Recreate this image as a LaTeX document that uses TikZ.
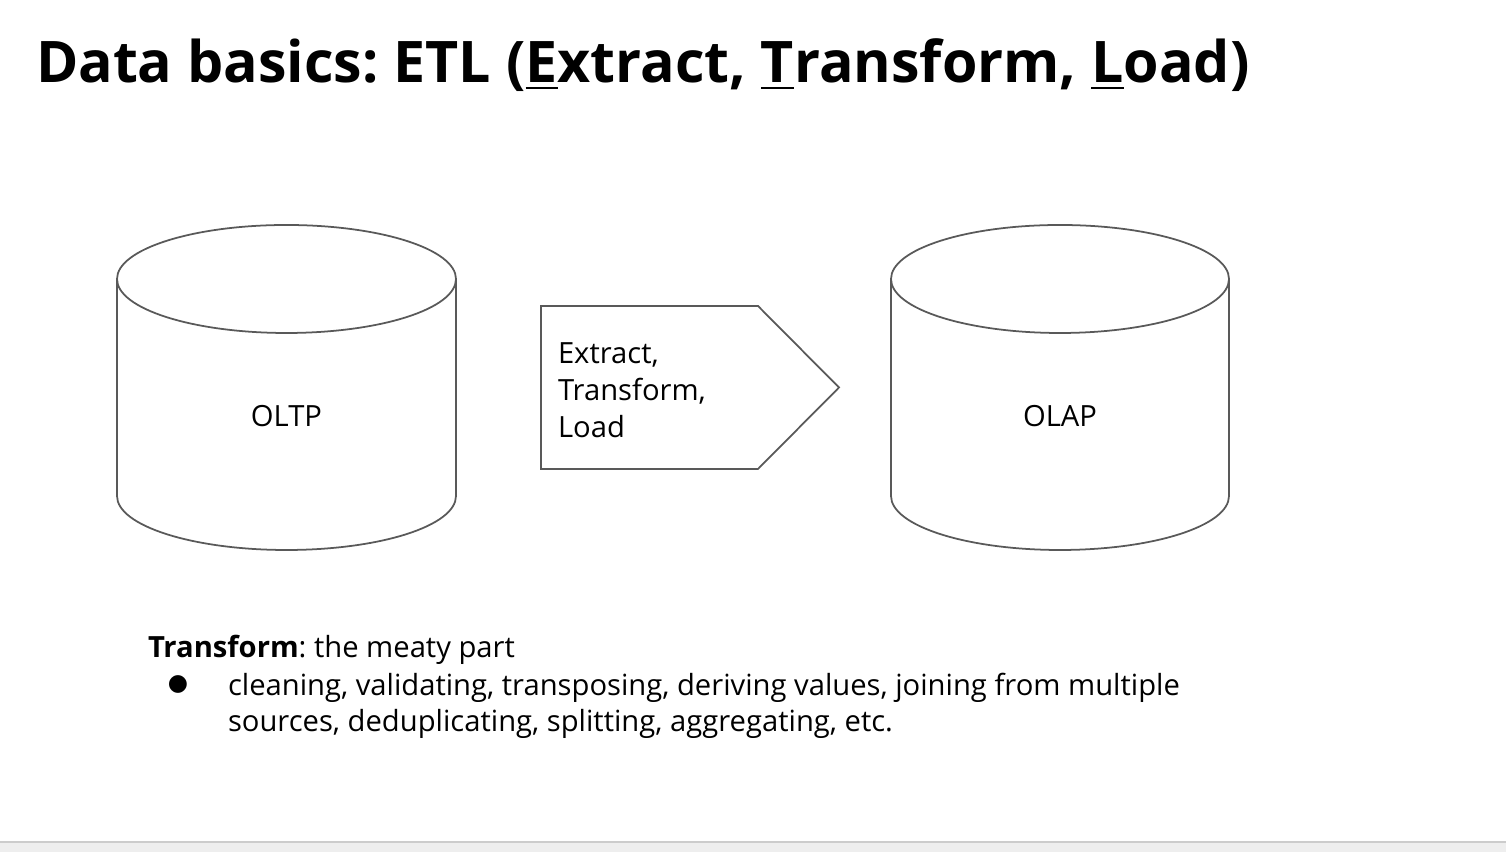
\documentclass[tikz,border=0pt]{standalone}
\usepackage{fontspec}
\setmainfont{Open Sans}
\newfontfamily\symfont{DejaVu Sans}
\usepackage{tikz}
\frenchspacing
\definecolor{edgegray}{HTML}{595959}
\definecolor{bargray}{HTML}{EEEEEE}
\tikzstyle{every node}=[inner sep=0pt, outer sep=0pt]
\tikzstyle{db}=[draw=edgegray, line width=0.5pt, fill=white]
\tikzstyle{body}=[font=\fontsize{8.3}{10.5}\selectfont, align=left]

\begin{document}
\begin{tikzpicture}[x=0.01cm,y=0.01cm]
		\useasboundingbox (0,0) rectangle (1506,852);
		\fill[bargray] (0,0) rectangle (1506,10);
		\draw[black!20, line width=0.6pt] (0,10) -- (1506,10);
		% title
		\node[anchor=base west, font=\fontsize{16.3}{20}\selectfont\bfseries] (title) at (36,769)
			{Data basics: ETL (\underline{E}xtract, \underline{T}ransform, \underline{L}oad)};
		% OLTP
		\draw[db] (117,573) -- (117,356) arc[start angle=180, end angle=360, x radius=169.5, y radius=54] -- (456,573);
		\draw[db] (286.5,573) ellipse [x radius=169.5, y radius=54];
		\node[body] (oltp) at (286.5,436) {OLTP};
		% OLAP
		\draw[db] (891,573) -- (891,356) arc[start angle=180, end angle=360, x radius=169, y radius=54] -- (1229,573);
		\draw[db] (1060,573) ellipse [x radius=169, y radius=54];
		\node[body] (olap) at (1060,436) {OLAP};
		% ETL
		\draw[db] (541,546) -- (758,546) -- (839,464.5) -- (758,383) -- (541,383) -- cycle;
		\node[body, anchor=west] (etl) at (558,462) {Extract,\\Transform,\\Load};
		% notes
		\node[body, anchor=base west] (note) at (148,194.5) {\textbf{Transform}: the meaty part};
		\node[anchor=center, font=\symfont\fontsize{6.6}{8}\selectfont] (dot) at (178,167) {●};
		\node[body, anchor=base west] (list) at (228,120)
			{cleaning, validating, transposing, deriving values, joining from multiple\\sources, deduplicating, splitting, aggregating, etc.};
		\end{tikzpicture}
\end{document}
